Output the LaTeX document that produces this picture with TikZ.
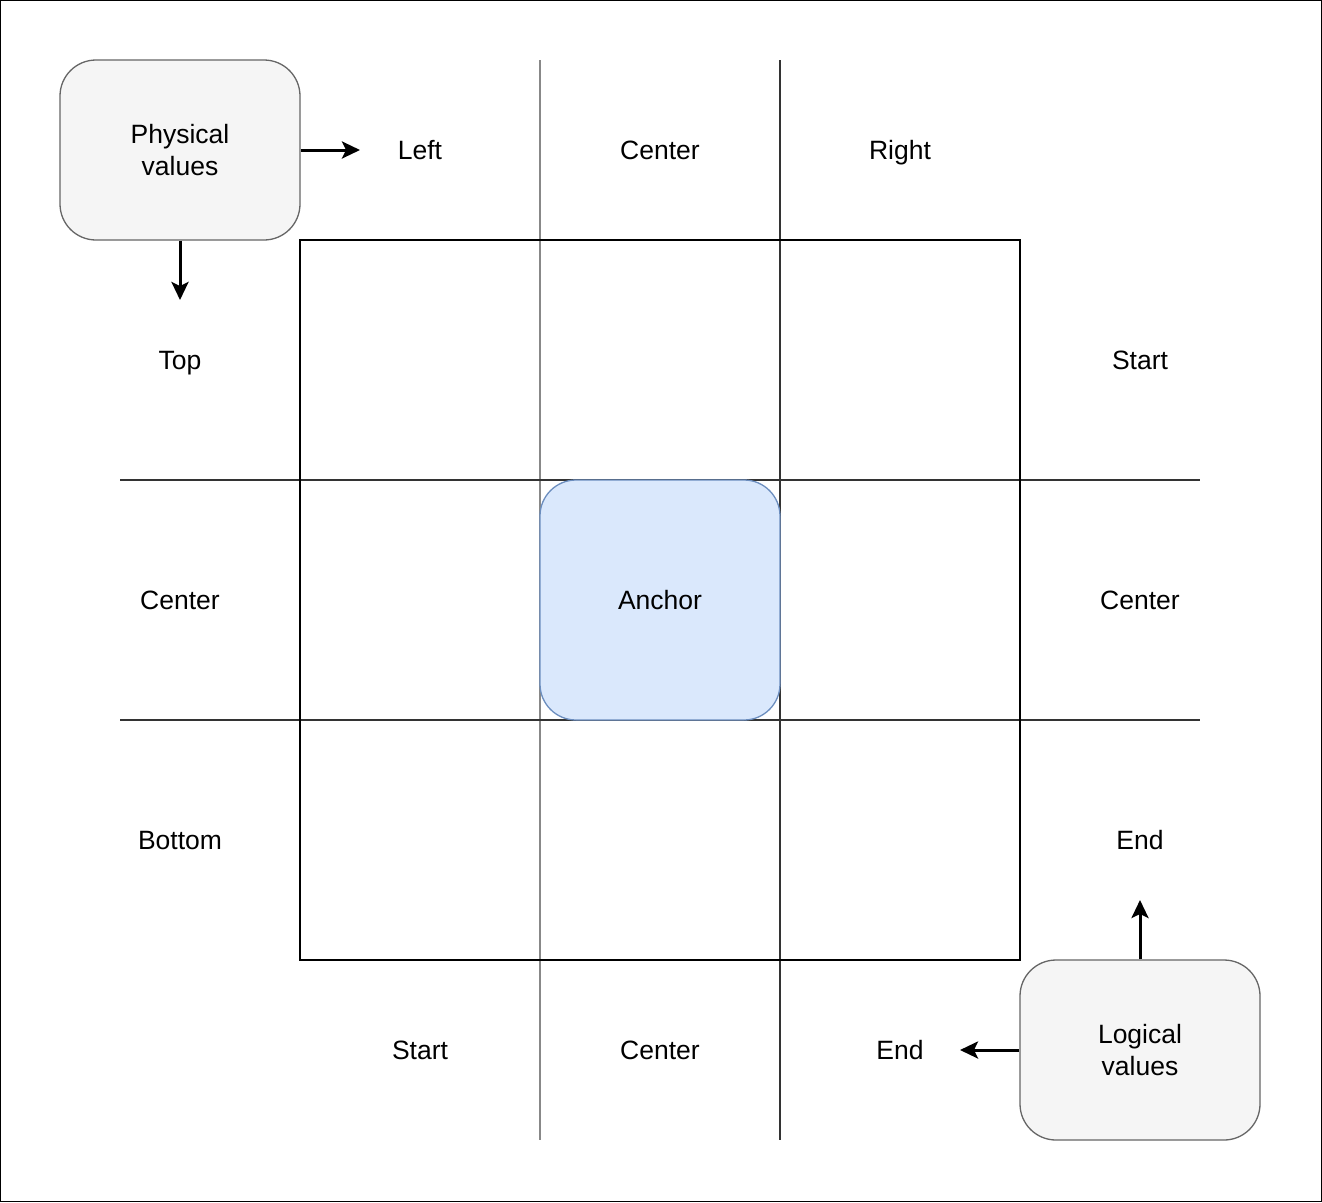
\documentclass[tikz,border=0pt]{standalone}
\usepackage{fontspec}
\setmainfont{Liberation Sans}
\usetikzlibrary{arrows.meta}
\definecolor{boxgray}{HTML}{F5F5F5}
\definecolor{boxline}{HTML}{666666}
\definecolor{ancfill}{HTML}{DAE8FC}
\definecolor{ancline}{HTML}{6C8EBF}
\definecolor{lightgrid}{HTML}{888888}
\definecolor{darkgrid}{HTML}{333333}
\tikzset{
  lbl/.style={font=\fontsize{26.5}{30}\selectfont, inner sep=0pt, text=black,
    text height=19pt, text depth=0pt},
  valbox/.style={draw=boxline, fill=boxgray, line width=1.3pt, rounded corners=36pt,
    minimum width=240pt, minimum height=180pt, inner sep=0pt, align=center,
    font=\fontsize{26.5}{32}\selectfont},
  ancbox/.style={draw=ancline, fill=ancfill, line width=1.3pt, rounded corners=36pt,
    minimum width=240pt, minimum height=240pt, inner sep=0pt,
    font=\fontsize{26.5}{30}\selectfont},
  arr/.style={-{Stealth[length=18pt,width=17pt,inset=4pt]}, line width=3pt},
  gridl/.style={line width=1.4pt}
}
\begin{document}
\begin{tikzpicture}[x=1pt,y=-1pt]
\useasboundingbox (0,0) rectangle (1322,1202);
\draw[line width=1.4pt] (0.7,0.7) rectangle (1321.3,1201.3);
% grid lines
\draw[gridl, draw=lightgrid] (540,60) -- (540,1140);
\draw[gridl, draw=darkgrid] (780,60) -- (780,1140);
\draw[gridl, draw=darkgrid] (120,480) -- (1200,480);
\draw[gridl, draw=darkgrid] (120,720) -- (1200,720);
\draw[gridl, draw=black] (300,240) rectangle (1020,960);
% anchor
\node[ancbox] (anchor) at (660,600) {Anchor};
% boxes
\node[valbox] (phys) at (180,150) {Physical\\values};
\node[valbox] (logi) at (1140,1050) {Logical\\values};
% labels
\node[lbl] (left) at (420,150) {Left};
\node[lbl] (ctop) at (660,150) {Center};
\node[lbl] (right) at (900,150) {Right};
\node[lbl] (top) at (180,360) {Top};
\node[lbl] (cleft) at (180,600) {Center};
\node[lbl] (bottom) at (180,840) {Bottom};
\node[lbl] (start) at (1140,360) {Start};
\node[lbl] (cright) at (1140,600) {Center};
\node[lbl] (endr) at (1140,840) {End};
\node[lbl] (startb) at (420,1050) {Start};
\node[lbl] (cbot) at (660,1050) {Center};
\node[lbl] (endb) at (900,1050) {End};
% arrows
\coordinate (p1) at (360,150);
\coordinate (p2) at (180,300);
\coordinate (l1) at (1140,900);
\coordinate (l2) at (960,1050);
\draw[arr] (phys.east) -- (p1);
\draw[arr] (phys.south) -- (p2);
\draw[arr] (logi.north) -- (l1);
\draw[arr] (logi.west) -- (l2);
\end{tikzpicture}
\end{document}
